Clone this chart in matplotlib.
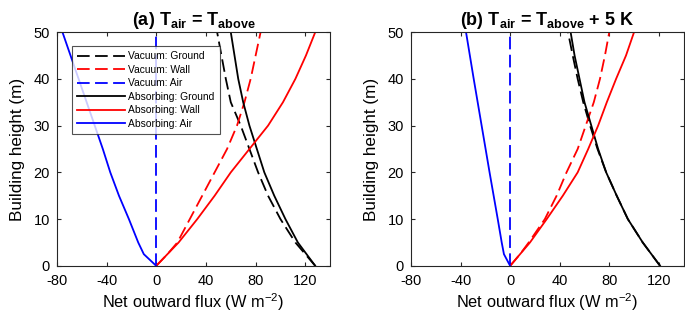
import numpy as np
import matplotlib
matplotlib.use("Agg")
import matplotlib.pyplot as plt

plt.rcParams['font.family'] = ['Liberation Sans', 'DejaVu Sans']
plt.rcParams['mathtext.fontset'] = 'custom'
plt.rcParams['mathtext.rm'] = 'Liberation Sans'
plt.rcParams['mathtext.bf'] = 'Liberation Sans:bold'
plt.rcParams['axes.unicode_minus'] = False

# building height (m)
height = [0, 2.5, 5, 10, 15, 20, 25, 30, 35, 40, 45, 50]

# (a) T_air = T_above
a_vac_ground = [128, 120, 112, 100, 90, 82, 75, 68, 60, 56, 52.5, 49]
a_vac_wall = [0, 9, 17, 27, 37, 47, 57, 65, 71, 76, 80, 84]
a_vac_air = [0] * 12
a_abs_ground = [128, 121, 114, 104, 95, 87, 81, 75, 70, 66, 63, 60]
a_abs_wall = [0, 9, 18, 33, 47, 60, 75, 90, 102, 112, 120.5, 128]
a_abs_air = [0, -10, -14.5, -22, -30, -37, -43, -49.5, -56, -62.5, -69, -75.5]

# (b) T_air = T_above + 5 K
b_vac_ground = [121, 114, 107, 95, 86, 77.5, 70.5, 64.5, 59, 54.5, 50.5, 46.7]
b_vac_wall = [0, 8, 15, 28, 37.5, 45.5, 54.5, 61, 67.5, 72.5, 76.5, 80]
b_vac_air = [0] * 12
b_abs_ground = [121, 114, 107, 95, 86, 77.5, 71, 65.5, 60, 56, 52, 48.8]
b_abs_wall = [0, 8, 16, 29.5, 42.5, 54.5, 63, 71, 78, 85.5, 93.5, 100]
b_abs_air = [0, -5, -6.8, -10, -13.3, -16.6, -19.8, -23, -26.2, -29.4, -32.5, -35.6]

labels = ['Vacuum: Ground', 'Vacuum: Wall', 'Vacuum: Air',
          'Absorbing: Ground', 'Absorbing: Wall', 'Absorbing: Air']
colors = ['k', 'r', 'b', 'k', 'r', 'b']

fig = plt.figure(figsize=(6.85, 3.15), dpi=100)
ax1 = fig.add_axes([0.083, 0.156, 0.399, 0.742])
ax2 = fig.add_axes([0.600, 0.156, 0.398, 0.742])

panels = [
    (ax1, [a_vac_ground, a_vac_wall, a_vac_air, a_abs_ground, a_abs_wall, a_abs_air],
     r'(a) $\mathbf{T_{air}}$ = $\mathbf{T_{above}}$'),
    (ax2, [b_vac_ground, b_vac_wall, b_vac_air, b_abs_ground, b_abs_wall, b_abs_air],
     r'(b) $\mathbf{T_{air}}$ = $\mathbf{T_{above}}$ + 5 K'),
]

for ax, series, title in panels:
    for i, xs in enumerate(series):
        if i < 3:
            ax.plot(xs, height, color=colors[i], lw=1.3, dashes=(7, 3), label=labels[i])
        else:
            ax.plot(xs, height, color=colors[i], lw=1.3, label=labels[i])
    ax.set_xlim(-80, 140)
    ax.set_ylim(0, 50)
    ax.set_xticks([-80, -40, 0, 40, 80, 120])
    ax.set_yticks([0, 10, 20, 30, 40, 50])
    ax.tick_params(direction='in', top=True, right=True, length=3,
                   labelsize=10.5, colors='#262626', labelcolor='k')
    ax.tick_params(axis='x', pad=6)
    ax.tick_params(axis='y', pad=5)
    for sp in ax.spines.values():
        sp.set_color('#262626')
        sp.set_linewidth(0.8)
    ax.set_xlabel(r'Net outward flux (W m$^{-2}$)', fontsize=11.8, labelpad=2)
    ax.set_ylabel('Building height (m)', fontsize=12.3, labelpad=6)
    ax.set_title(title, fontsize=13, fontweight='bold', pad=5)

leg = ax1.legend(loc='upper left', bbox_to_anchor=(0.055, 0.94), fontsize=7.4,
                 frameon=True, fancybox=False, handlelength=4.7, handletextpad=0.3,
                 labelspacing=0.34, borderpad=0.5, borderaxespad=0)
leg.get_frame().set_edgecolor('#262626')
leg.get_frame().set_linewidth(0.8)

plt.savefig('out.png', dpi=100)
